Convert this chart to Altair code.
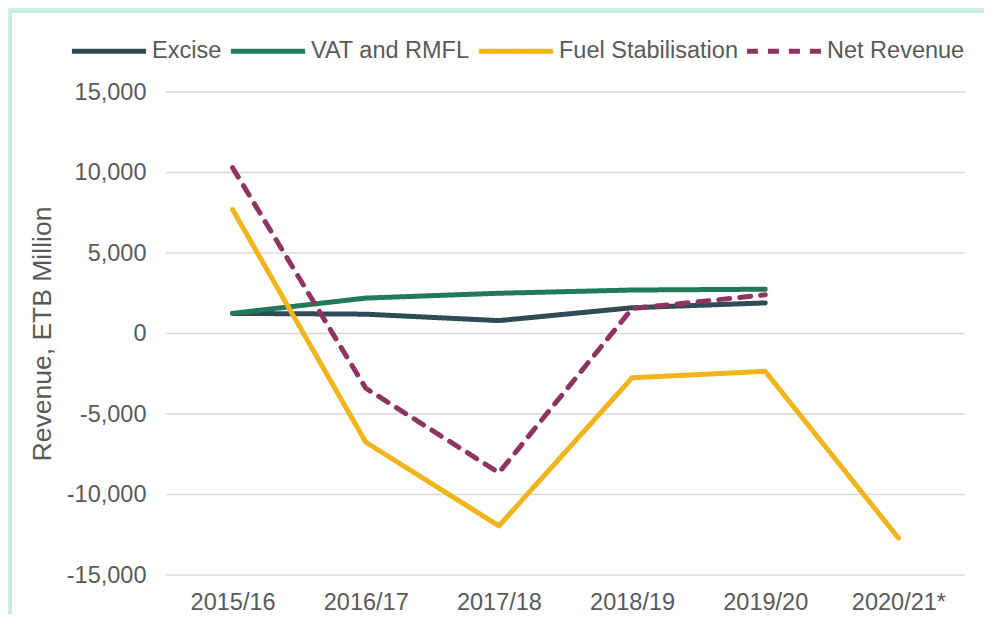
import altair as alt
import pandas as pd

years = ["2015/16", "2016/17", "2017/18", "2018/19", "2019/20", "2020/21*"]
series_names = ["Excise", "VAT and RMFL", "Fuel Stabilisation", "Net Revenue"]
excise = [1250, 1200, 800, 1600, 1900, None]
vat_rmfl = [1250, 2200, 2500, 2700, 2750, None]
fuel_stab = [7700, -6750, -11950, -2750, -2350, -12700]
net_revenue = [10300, -3400, -8650, 1550, 2400, None]
colors = ["#2f4b55", "#217a59", "#f2b41b", "#8e3461"]
dashes = [[1, 0], [1, 0], [1, 0], [11, 10]]
grid_values = [-15000, -10000, -5000, 0, 5000, 10000, 15000]

rows = []
for name, vals in zip(series_names, [excise, vat_rmfl, fuel_stab, net_revenue]):
    for yr, v in zip(years, vals):
        if v is not None:
            rows.append({"Year": yr, "Series": name, "Value": v})
df = pd.DataFrame(rows)
grid_df = pd.DataFrame({"g": grid_values})

W, H = 799, 483
font = "Liberation Sans"
fs = 23.5

y_scale = alt.Scale(domain=[-15000, 15000], nice=False)
y_axis = alt.Axis(title="Revenue, ETB Million", values=grid_values,
                  labelExpr="replace(format(datum.value, ','), '\u2212', '-')",
                  labelFontSize=fs, labelColor="#595959", labelFont=font,
                  titleFontSize=26.5, titleColor="#595959", titleFont=font,
                  titleFontWeight="normal", titlePadding=10,
                  domain=False, ticks=False, grid=False, labelPadding=20, zindex=1)

bg = alt.Chart(pd.DataFrame({"a": [0]})).mark_rect(
    fill="white", stroke="#a8e0c8", strokeWidth=1
).encode(
    x=alt.value(-155), x2=alt.value(W + 200),
    y=alt.value(-80), y2=alt.value(H + 200)
)

grid = alt.Chart(grid_df).mark_rule(color="#d9d9d9", strokeWidth=1.5).encode(
    y=alt.Y("g:Q", scale=y_scale, axis=y_axis)
)

lines = alt.Chart(df).mark_line(strokeWidth=5, strokeCap="round", strokeJoin="round").encode(
    x=alt.X("Year:N", sort=years, scale=alt.Scale(domain=years),
            axis=alt.Axis(title=None, labelAngle=0, labelFontSize=fs, labelColor="#595959",
                          labelFont=font, domain=False, ticks=False, labelPadding=15,
                          grid=False, zindex=1)),
    y=alt.Y("Value:Q", scale=y_scale, axis=y_axis),
    color=alt.Color("Series:N", sort=series_names,
                    scale=alt.Scale(domain=series_names, range=colors),
                    legend=alt.Legend(title=None, orient="none", direction="horizontal",
                                      legendX=-97, legendY=-81,
                                      symbolType="stroke", symbolSize=5500, symbolStrokeWidth=5,
                                      labelFontSize=fs, labelColor="#595959", labelFont=font,
                                      labelOffset=3, columnPadding=-2, labelLimit=0, zindex=1)),
    strokeDash=alt.StrokeDash("Series:N", sort=series_names,
                              scale=alt.Scale(domain=series_names, range=dashes),
                              legend=None),
    detail="Series:N",
)

chart = alt.layer(bg, grid, lines).properties(
    width=W, height=H,
    autosize=alt.AutoSizeParams(type="none"),
    padding={"left": 158, "top": 84, "right": 19, "bottom": 39},
    background="#d1f0e3",
).configure_view(stroke=None)

chart.save("out.html", embed_options={"renderer": "svg", "actions": False})
